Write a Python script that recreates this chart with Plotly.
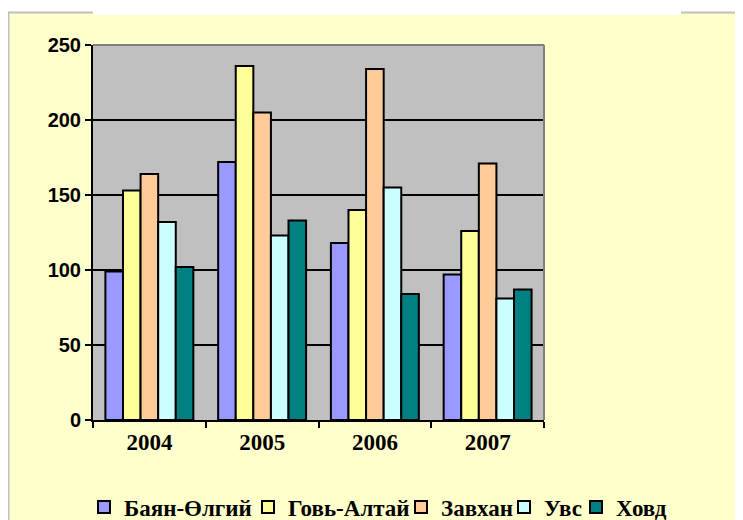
import plotly.graph_objects as go

years = ["2004", "2005", "2006", "2007"]
series_names = ["Баян-Өлгий", "Говь-Алтай", "Завхан", "Увс", "Ховд"]
bayan_olgii = [99, 172, 118, 97]
govi_altai = [153, 236, 140, 126]
zavkhan = [164, 205, 234, 171]
uvs = [132, 123, 155, 81]
khovd = [102, 133, 84, 87]
series_values = [bayan_olgii, govi_altai, zavkhan, uvs, khovd]
colors = ["#9999FF", "#FFFF99", "#FFCC99", "#CCFFFF", "#008080"]
y_ticks = [0, 50, 100, 150, 200, 250]

# The page places the figure 8 px in from the top-left corner (body margin),
# so figure pixel = page pixel - 8.
OFF = 8
W, H = 743, 520
L, T = 93 - OFF, 45 - OFF
pw, ph = 451, 375
R, B = W - L - pw, H - T - ph


def px(x):  # page x pixel -> paper fraction
    return (x - OFF - L) / pw


def py(y):  # page y pixel -> paper fraction
    return (H - B - (y - OFF)) / ph


legend_ids = ["legend", "legend2", "legend3", "legend4", "legend5"]
legend_symbol_x = [98, 262, 415, 518, 590]

fig = go.Figure()
for name, vals, col, lid in zip(series_names, series_values, colors, legend_ids):
    fig.add_trace(go.Bar(
        x=years, y=vals, name=name, legend=lid,
        marker=dict(color=col, line=dict(color="black", width=2)),
    ))

shapes = [
    dict(type="rect", xref="paper", yref="paper", x0=px(0), x1=px(W + OFF), y0=py(12), y1=py(0),
         fillcolor="white", line=dict(width=0), layer="below"),
    dict(type="rect", xref="paper", yref="paper", x0=px(93), x1=px(681), y0=py(15), y1=py(0),
         fillcolor="white", line=dict(width=0), layer="below"),
    dict(type="line", xref="paper", yref="paper", x0=px(8.5), x1=px(8.5), y0=py(12), y1=py(H + OFF),
         line=dict(color="#C0C0C0", width=2)),
    dict(type="line", xref="paper", yref="paper", x0=px(8), x1=px(93), y0=py(12.5), y1=py(12.5),
         line=dict(color="#C0C0C0", width=2)),
    dict(type="line", xref="paper", yref="paper", x0=px(681), x1=px(W + OFF), y0=py(12.5), y1=py(12.5),
         line=dict(color="#C0C0C0", width=2)),
    dict(type="line", xref="paper", yref="paper", x0=0, x1=1, y0=1, y1=1,
         line=dict(color="#808080", width=2)),
    dict(type="line", xref="paper", yref="paper", x0=1, x1=1, y0=0, y1=1,
         line=dict(color="#808080", width=2)),
]

layout_legends = {}
for lid, sx in zip(legend_ids, legend_symbol_x):
    layout_legends[lid] = dict(
        x=px(sx - 14), xanchor="left", y=py(507), yanchor="middle",
        orientation="h",
        font=dict(family="Liberation Serif", size=23, color="black", weight="bold"),
        bgcolor="rgba(0,0,0,0)", itemwidth=30,
    )

fig.update_layout(
    width=W, height=H,
    margin=dict(l=L, r=R, t=T, b=B, pad=0, autoexpand=False),
    paper_bgcolor="#FFFFCC",
    plot_bgcolor="#C0C0C0",
    barmode="group",
    bargap=0.22,
    bargroupgap=0,
    shapes=shapes,
    showlegend=True,
    xaxis=dict(
        type="category", showline=True, linecolor="black", linewidth=2,
        ticks="outside", tickson="boundaries", ticklen=6, tickwidth=1.5, tickcolor="black",
        tickfont=dict(family="Liberation Serif", size=23, color="black", weight="bold"),
        showgrid=False,
    ),
    yaxis=dict(
        range=[0, 250], tickvals=y_ticks, showline=True, linecolor="black", linewidth=2,
        ticks="outside", ticklen=6, tickwidth=1.5, tickcolor="black",
        tickfont=dict(family="Liberation Sans", size=20, color="black", weight="bold"),
        showgrid=True, gridcolor="black", gridwidth=2, zeroline=False,
    ),
    **layout_legends,
)

fig.write_html("out.html")
